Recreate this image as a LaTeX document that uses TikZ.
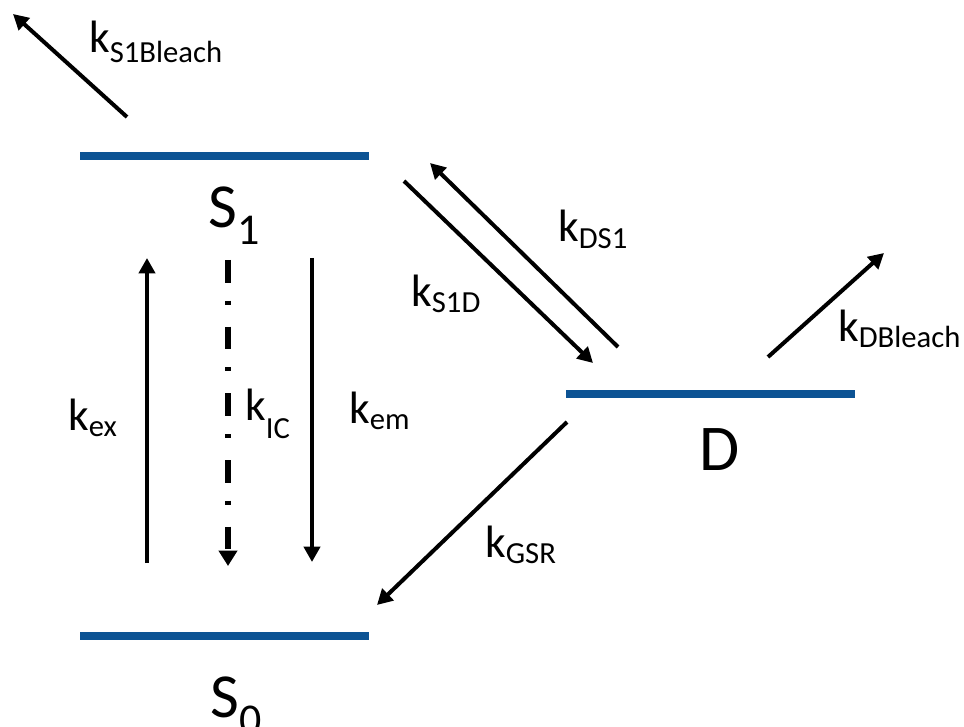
\documentclass[tikz,border=0pt]{standalone}
\usepackage{fontspec}
\setmainfont{Carlito}
\usetikzlibrary{arrows.meta}
\definecolor{levelblue}{RGB}{12,83,148}
% rate constant: k with a lowered subscript (#1 text, #2 drop)
\newcommand\rateconst[2]{k\raisebox{-#2}{\fontsize{23}{23}\selectfont #1}}
% state symbol with a lowered subscript
\newcommand\statesym[2]{#1\raisebox{-12.75pt}{\fontsize{33}{33}\selectfont #2}}

\begin{document}
\begin{tikzpicture}[x=0.75pt,y=-0.75pt,
  level/.style={draw=levelblue,line width=5.5pt},
  rate/.style={draw,line width=3pt,-{Triangle[length=11.5pt,width=12pt]}},
  icrate/.style={draw,line width=4.5pt,
    dash pattern=on 17pt off 13.5pt on 3pt off 16.5pt,
    -{Triangle[length=11.5pt,width=13.5pt]}},
  lab/.style={anchor=base west,inner sep=0pt,font=\fontsize{34}{34}\selectfont},
  statelab/.style={anchor=base west,inner sep=0pt,font=\fontsize{47}{47}\selectfont}]
\useasboundingbox (0,0) rectangle (964,727);

% energy levels
\coordinate (s1a) at (80,156);  \coordinate (s1b) at (369,156);
\coordinate (s0a) at (80,636);  \coordinate (s0b) at (369,636);
\coordinate (da)  at (566,394); \coordinate (db)  at (855,394);
\draw[level] (s1a) -- (s1b);
\draw[level] (s0a) -- (s0b);
\draw[level] (da) -- (db);

% state labels
\node[statelab] (lS1) at (208,228) {\statesym{S}{1}};
\node[statelab] (lS0) at (210,717) {\statesym{S}{0}};
\node[statelab,font=\fontsize{49}{49}\selectfont] (lD) at (699,470) {D};

% transition end points
\coordinate (bl1) at (127,117); \coordinate (bl2) at (13,14);
\coordinate (ds1) at (618,347); \coordinate (ds2) at (430,163);
\coordinate (sd1) at (404,181); \coordinate (sd2) at (593,363);
\coordinate (ex1) at (147,563); \coordinate (ex2) at (147,258);
\coordinate (ic1) at (228,260); \coordinate (ic2) at (228,566);
\coordinate (em1) at (312,258); \coordinate (em2) at (312,562);
\coordinate (gs1) at (567,422); \coordinate (gs2) at (377,605);
\coordinate (db1) at (768,357); \coordinate (db2) at (884,253);

% transitions
\draw[rate] (bl1) -- (bl2);
\draw[rate] (ds1) -- (ds2);
\draw[rate] (sd1) -- (sd2);
\draw[rate] (ex1) -- (ex2);
\draw[icrate] (ic1) -- (ic2);
\draw[rate] (em1) -- (em2);
\draw[rate] (gs1) -- (gs2);
\draw[rate] (db1) -- (db2);

% rate constants
\node[lab] (kS1B) at (89,53)   {\rateconst{S1Bleach}{7.5pt}};
\node[lab] (kDS1) at (558,242) {\rateconst{DS1}{5pt}};
\node[lab] (kS1D) at (411,307) {\rateconst{S1D}{4.5pt}};
\node[lab] (kex)  at (68,430)  {\rateconst{ex}{5pt}};
\node[lab] (kIC)  at (245,420) {\rateconst{IC}{14pt}};
\node[lab] (kem)  at (349,423) {\rateconst{em}{5pt}};
\node[lab] (kGSR) at (485,557) {\rateconst{GSR}{4.5pt}};
\node[lab] (kDB)  at (838,342) {\rateconst{DBleach}{4.5pt}};
\end{tikzpicture}
\end{document}
